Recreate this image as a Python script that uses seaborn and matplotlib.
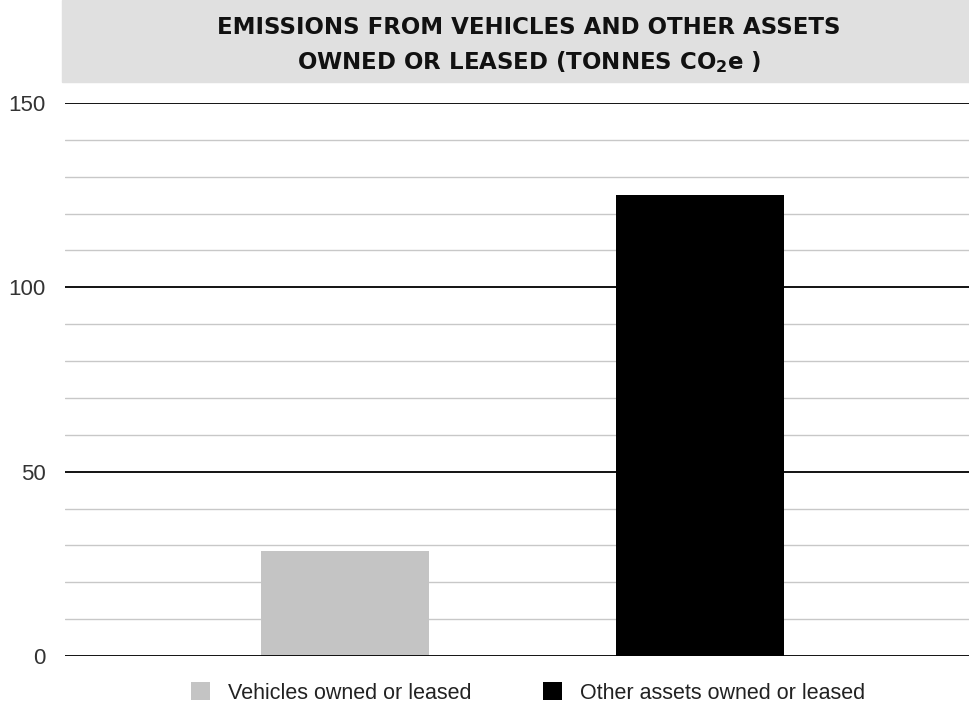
import matplotlib
matplotlib.use("Agg")
import matplotlib.pyplot as plt
import seaborn as sns
from matplotlib.patches import Patch, Rectangle
from matplotlib.ticker import MultipleLocator

# data
categories = ["Vehicles owned or leased", "Other assets owned or leased"]
values = [28.5, 125]
bar_colors = ["#c4c4c4", "#000000"]
title_lines = ["EMISSIONS FROM VEHICLES AND OTHER ASSETS",
               "OWNED OR LEASED (TONNES CO$_\\mathbf{2}$e )"]

sns.set_style("white")
plt.rcParams["font.family"] = ["Liberation Sans", "DejaVu Sans"]

fig = plt.figure(figsize=(9.7, 7.06), dpi=100)
ax = fig.add_axes([0.067, 0.0708, 0.933, 0.7833])

sns.barplot(x=categories, y=values, hue=categories, palette=bar_colors,
            width=0.473, saturation=1, legend=False, ax=ax, linewidth=0)

ax.set_ylim(0, 150)
ax.set_xlim(-0.789, 1.761)
ax.yaxis.set_major_locator(MultipleLocator(50))
ax.yaxis.set_minor_locator(MultipleLocator(10))
ax.set_axisbelow(True)
ax.grid(which="minor", axis="y", color="#c8c8c8", lw=1.0)
# black lines at the major ticks, drawn over the bars
for t in ax.get_yticks():
    ax.axhline(t, color="#000000", lw=1.3, zorder=4)
for s in ax.spines.values():
    s.set_visible(False)
ax.set_xticks([])
ax.set_xlabel("")
ax.tick_params(axis="y", which="both", length=0, pad=14, labelsize=16, labelcolor="#333333")

# title band
fig.patches.append(Rectangle((62 / 970, 1 - 82 / 706), 1 - 62 / 970, 82 / 706,
                             transform=fig.transFigure, color="#e0e0e0", zorder=0))
fig.text(529 / 970, 1 - 28 / 706, title_lines[0], ha="center", va="center",
         fontsize=16.5, fontweight="bold", family="DejaVu Sans", color="#111111")
fig.text(529 / 970, 1 - 62 / 706, title_lines[1], ha="center", va="center",
         fontsize=16.5, fontweight="bold", family="DejaVu Sans", color="#111111")

handles = [Patch(facecolor=c, edgecolor="none") for c in bar_colors]
fig.legend(handles, categories, loc="center", bbox_to_anchor=(528 / 970, 1 - 693 / 706),
           ncol=2, frameon=False, fontsize=15.5, handlelength=0.88, handleheight=0.88,
           handletextpad=0.84, columnspacing=3.3, labelcolor="#222222",
           borderpad=0, borderaxespad=0)

fig.savefig("out.png", dpi=100)
